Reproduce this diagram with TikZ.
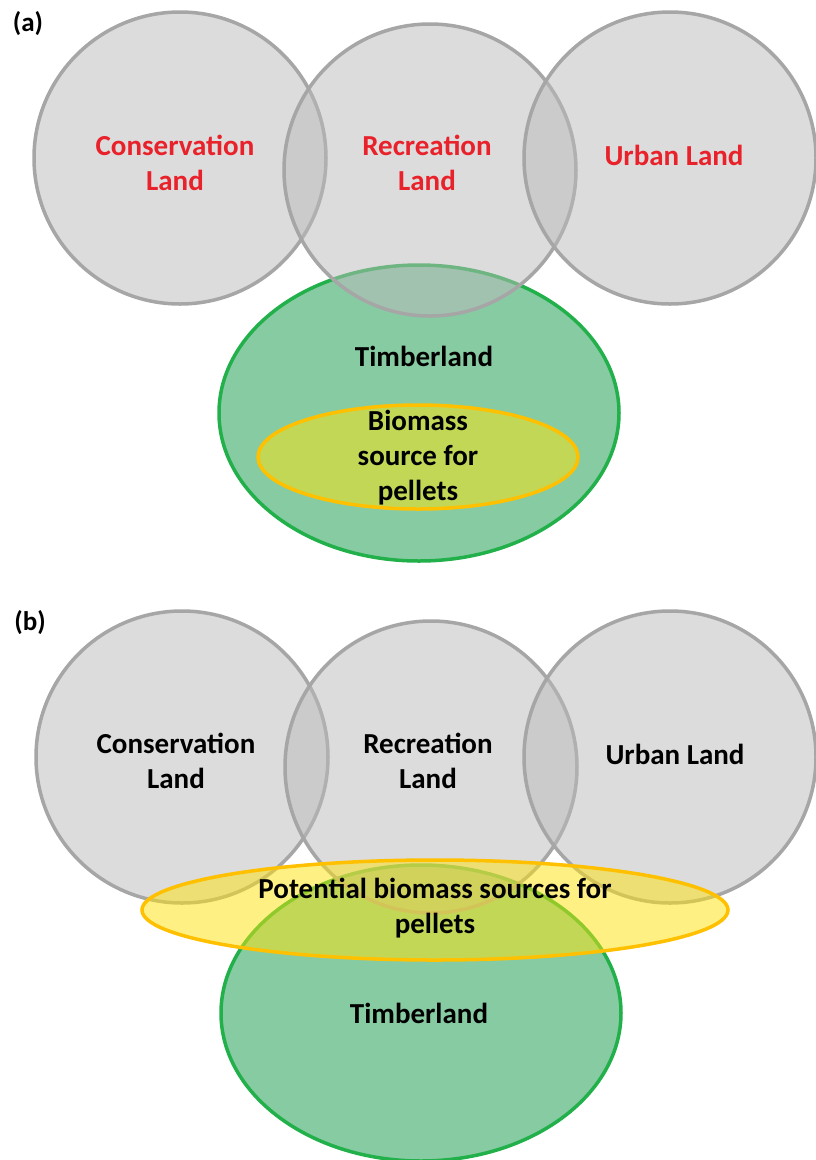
\documentclass[tikz,border=0pt]{standalone}
\usepackage{fontspec}
\setmainfont{Carlito}
\definecolor{landgray}{HTML}{BBBBBB}
\definecolor{landedge}{HTML}{A6A6A6}
\definecolor{timberfill}{HTML}{87CBA3}
\definecolor{timberedge}{HTML}{22B04A}
\definecolor{pelletfill}{HTML}{FFE30B}
\definecolor{pelletedge}{HTML}{FFC000}
\definecolor{landred}{HTML}{E8212A}
\tikzset{
  landcircle/.style={draw=landedge, line width=3.5pt, fill=landgray, fill opacity=0.5},
  timber/.style={draw=timberedge, line width=3.5pt, fill=timberfill},
  pelletzone/.style={draw=pelletedge, line width=3.5pt, fill=pelletfill, fill opacity=0.5},
  lbl/.style={font=\fontsize{29}{35}\selectfont\bfseries, align=center, inner sep=0pt},
  tag/.style={font=\fontsize{27}{32}\selectfont\bfseries, inner sep=0pt}
}
\begin{document}
\begin{tikzpicture}[x=1pt, y=-1pt]
	\useasboundingbox[fill=white] (0, 0) rectangle (815, 1160);
	% (a)
	\draw[timber] (419, 413) ellipse (200 and 148);
	\foreach \cx/\cy in {180/158, 430/170, 670/158}{
		\draw[landcircle] (\cx, \cy) circle (146);
	}
	\draw[pelletzone] (418, 457) ellipse (160 and 52);
	\node[tag] (tagA) at (28, 24) {(a)};
	\node[lbl, text=landred] (consA) at (175, 163) {Conservation\\Land};
	\node[lbl, text=landred] (recA) at (427, 163) {Recreation\\Land};
	\node[lbl, text=landred] (urbanA) at (674, 155) {Urban Land};
	\node[lbl] (timberA) at (424, 356) {Timberland};
	\node[lbl] (biomassA) at (418, 458) {Biomass\\source for\\pellets};
	% (b)
	\draw[timber] (421, 1013) ellipse (200 and 148);
	\foreach \cx/\cy in {182/757, 431/767, 670/757}{
		\draw[landcircle] (\cx, \cy) circle (146);
	}
	\draw[pelletzone] (435, 910) ellipse (293 and 50);
	\node[tag] (tagB) at (30, 623) {(b)};
	\node[lbl] (consB) at (176, 761) {Conservation\\Land};
	\node[lbl] (recB) at (428, 761) {Recreation\\Land};
	\node[lbl] (urbanB) at (675, 754) {Urban Land};
	\node[lbl] (potentialB) at (435, 908) {Potential biomass sources for\\pellets};
	\node[lbl] (timberB) at (419, 1013) {Timberland};
\end{tikzpicture}
\end{document}
